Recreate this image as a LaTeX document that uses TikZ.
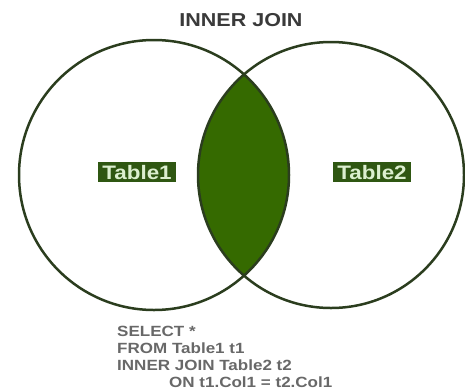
\documentclass[tikz,border=0pt]{standalone}
\usepackage{fontspec}
\setmainfont[FakeStretch=1.15]{Liberation Sans}
\usetikzlibrary{positioning}

\definecolor{lensgreen}{HTML}{356A00}
\definecolor{ringcol}{HTML}{2B3D1E}
\definecolor{tabfill}{HTML}{2F5712}
\definecolor{tabtext}{HTML}{DCEFCF}
\definecolor{titlegray}{HTML}{3A3A3A}
\definecolor{sqlgray}{HTML}{686868}

\tikzset{
  ring/.style={draw=ringcol, line width=2.5pt},
  tablabel/.style={fill=tabfill, text=tabtext, font=\bfseries\fontsize{19.5}{20}\selectfont,
    minimum width=78pt, minimum height=20pt, inner sep=0pt, text depth=0pt},
}

\begin{document}
\begin{tikzpicture}[x=1pt, y=-1pt]
    \useasboundingbox (0,0) rectangle (465,389);

    % --- overlap of the two tables ---
    \begin{scope}
        \clip (154,175) circle (135pt);
        \fill[lensgreen] (331,175) circle (133pt);
    \end{scope}
    \draw[ring] (154,175) circle (135pt);
    \draw[ring] (331,175) circle (133pt);

    % --- labels ---
    \node[font=\bfseries\fontsize{18.7}{20}\selectfont, text=titlegray] (title) at (241,20) {INNER JOIN};
    \node[tablabel] (tabA) at (137,172) {Table1};
    \node[tablabel] (tabB) at (372,172) {Table2};

    % --- query ---
    \node[anchor=base west, align=left, inner sep=0pt, text=sqlgray,
          font=\bfseries\fontsize{14.8}{17}\selectfont] (query) at (117,387)
        {SELECT *\\FROM Table1 t1\\INNER JOIN Table2 t2\\\hspace*{52pt}ON t1.Col1 = t2.Col1};
\end{tikzpicture}
\end{document}
